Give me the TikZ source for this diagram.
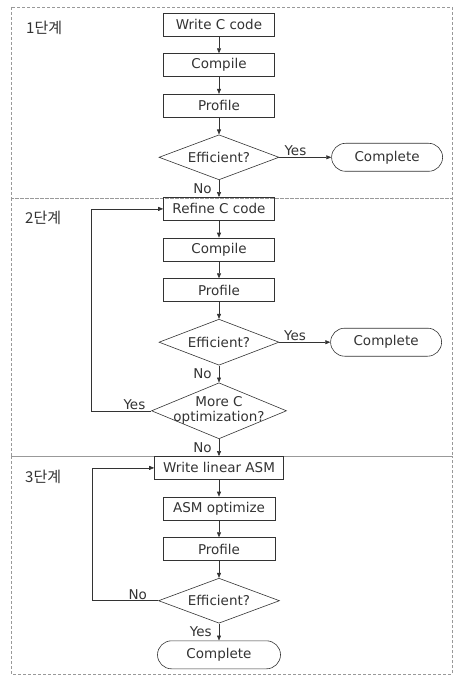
\documentclass[tikz,border=0pt]{standalone}
\usepackage{fontspec}
\setmainfont{DejaVu Sans}
\newfontfamily\krfont{Noto Sans CJK KR}
\usetikzlibrary{arrows.meta, positioning, shapes.geometric}
\definecolor{ink}{gray}{0.2}
\definecolor{zoneline}{gray}{0.6}
\tikzstyle{block} = [rectangle, draw=ink, text=ink, line width=0.6pt,
  minimum width=111pt, minimum height=23pt, inner sep=1pt,
  font=\fontsize{13.5}{15}\selectfont]
\tikzstyle{decision} = [diamond, aspect=2.6, draw=ink, text=ink, line width=0.6pt,
  minimum width=120pt, minimum height=45pt, inner sep=0pt,
  font=\fontsize{13.5}{15}\selectfont]
\tikzstyle{finish} = [rectangle, rounded corners=14pt, draw=ink, text=ink,
  line width=0.6pt, minimum width=111pt, minimum height=28pt,
  font=\fontsize{13.5}{15}\selectfont]
\tikzstyle{arrow} = [draw=ink, line width=0.6pt, -{Triangle[length=5pt, width=4pt]}]
\tikzstyle{zone} = [draw=zoneline, line width=0.5pt, dash pattern=on 3pt off 2pt]
\tikzstyle{edgelabel} = [text=ink, inner sep=1pt, font=\fontsize{13.5}{15}\selectfont]
\tikzstyle{stagelabel} = [text=ink, anchor=west, inner sep=0pt,
  font=\krfont\fontsize{15}{17}\selectfont]

\begin{document}
\begin{tikzpicture}[x=1pt, y=-1pt, node distance=17pt]
    \useasboundingbox (0,0) rectangle (453,676);
    \draw[zone] (11,7) rectangle (452,198);
    \draw[zone] (11,198) rectangle (452,456);
    \draw[zone] (11,456) rectangle (452,674);
    \node[stagelabel] (stage1) at (26,28) {1단계};
    \node[stagelabel] (stage2) at (25,218) {2단계};
    \node[stagelabel] (stage3) at (25,477) {3단계};

    \node[block] (write) at (219,24.5) {Write C code};
    \node[block, below=of write] (compile1) {Compile};
    \node[block, below=of compile1] (profile1) {Profile};
    \node[decision, below=of profile1] (eff1) {Efficient?};
    \node[finish, right=52pt of eff1] (done1) {Complete};

    \node[block, below=of eff1] (refine) {Refine C code};
    \node[block, below=of refine] (compile2) {Compile};
    \node[block, below=of compile2] (profile2) {Profile};
    \node[decision, below=of profile2, minimum height=46pt] (eff2) {Efficient?};
    \node[finish, right=51pt of eff2] (done2) {Complete};
    \node[decision, below=of eff2, minimum width=135pt, minimum height=56pt] (more)
      {\makebox[0pt]{\begin{tabular}{@{}c@{}}More C\\optimization?\end{tabular}}};

    \node[block, below=of more, minimum width=129pt] (linasm) {Write linear ASM};
    \node[block, below=of linasm, minimum width=112pt] (asmopt) {ASM optimize};
    \node[block, below=of asmopt, minimum width=112pt] (profile3) {Profile};
    \node[decision, below=of profile3, minimum width=121pt] (eff3) {Efficient?};
    \node[finish, below=of eff3, minimum width=123pt] (done3) {Complete};

    \draw[arrow] (write) -- (compile1);
    \draw[arrow] (compile1) -- (profile1);
    \draw[arrow] (profile1) -- (eff1);
    \draw[arrow] (eff1) -- node[edgelabel, above, pos=0.31] {Yes} (done1);
    \draw[arrow] (eff1) -- node[edgelabel, left=6pt] {No} (refine);

    \draw[arrow] (refine) -- (compile2);
    \draw[arrow] (compile2) -- (profile2);
    \draw[arrow] (profile2) -- (eff2);
    \draw[arrow] (eff2) -- node[edgelabel, above, pos=0.31] {Yes} (done2);
    \draw[arrow] (eff2) -- node[edgelabel, left=6pt] {No} (more);
    \draw[arrow] (more.west) -- node[edgelabel, above, pos=0.28] {Yes} ++(-60,0) |- (refine.west);
    \draw[arrow] (more) -- node[edgelabel, left=6pt] {No} (linasm);

    \draw[arrow] (linasm) -- (asmopt);
    \draw[arrow] (asmopt) -- (profile3);
    \draw[arrow] (profile3) -- (eff3);
    \draw[arrow] (eff3.west) -- node[edgelabel, above, pos=0.31] {No} ++(-66,0) |- (linasm.west);
    \draw[arrow] (eff3) -- node[edgelabel, left=6pt] {Yes} (done3);
  \end{tikzpicture}
\end{document}
